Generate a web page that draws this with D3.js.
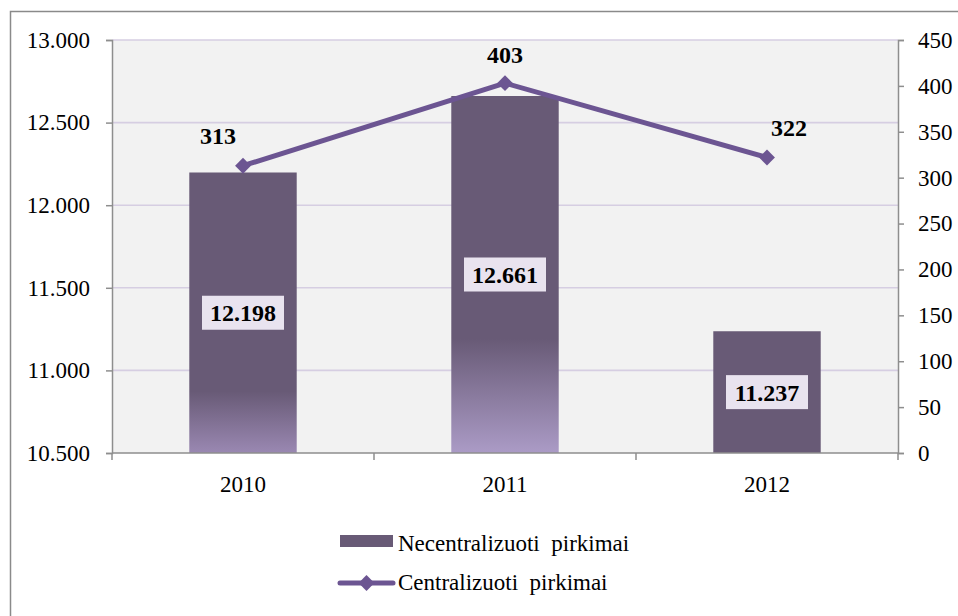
<!DOCTYPE html>
<html>
<head>
<meta charset="utf-8">
<script src="https://cdn.jsdelivr.net/npm/d3@7"></script>
<style>
  body { margin: 0; background: #fff; }
</style>
</head>
<body>
<div id="vis"></div>
<script>
// data
var years = ['2010', '2011', '2012'];
var necentralizuoti = [12198, 12661, 11237];
var centralizuoti = [313, 403, 322];
var leftTicks = [10500, 11000, 11500, 12000, 12500, 13000];
var rightTicks = [0, 50, 100, 150, 200, 250, 300, 350, 400, 450];

// per-bar gradient start (fraction of bar height) and bottom colour
var barFade = [
  { start: 0.78, bottom: '#9a88b2' },
  { start: 0.68, bottom: '#ab9bc6' },
  { start: 1.0, bottom: '#685a76' }
];
// hand-moved line label offsets
var lineLabelShift = [[-25, -30], [0, -29], [22, -30]];

var width = 958, height = 616;
var margin = { left: 112, right: 60, top: 40, bottom: 163 };
var plotW = width - margin.left - margin.right;   // 786
var plotH = height - margin.top - margin.bottom;  // 413

var font = "Liberation Serif";
var barColor = '#685a76';
var lineColor = '#6c5592';
var gridColor = '#d6cee2';
var axisColor = '#8e8e8e';

var svg = d3.select('#vis').append('svg')
  .attr('width', width)
  .attr('height', height)
  .attr('font-family', font);

// outer chart border
svg.append('rect')
  .attr('x', 10.5).attr('y', 11.5)
  .attr('width', width).attr('height', height)
  .attr('fill', '#fff')
  .attr('stroke', '#8a8a8a')
  .attr('stroke-width', 1.5);

var g = svg.append('g').attr('transform', 'translate(' + margin.left + ',' + margin.top + ')');

var x = d3.scaleBand().domain(years).range([0, plotW]);
var yL = d3.scaleLinear().domain([10500, 13000]).range([plotH, 0]);
var yR = d3.scaleLinear().domain([0, 450]).range([plotH, 0]);

// plot background
g.append('rect')
  .attr('width', plotW).attr('height', plotH)
  .attr('fill', '#f2f2f2');

// gridlines
g.selectAll('.grid').data(leftTicks.slice(1)).enter().append('line')
  .attr('x1', 0).attr('x2', plotW)
  .attr('y1', function (d) { return yL(d); })
  .attr('y2', function (d) { return yL(d); })
  .attr('stroke', gridColor)
  .attr('stroke-width', 1.6);

// gradients
var defs = svg.append('defs');
barFade.forEach(function (f, i) {
  var lg = defs.append('linearGradient')
    .attr('id', 'fade' + i)
    .attr('x1', 0).attr('y1', 0).attr('x2', 0).attr('y2', 1);
  lg.append('stop').attr('offset', 0).attr('stop-color', barColor);
  lg.append('stop').attr('offset', f.start).attr('stop-color', barColor);
  lg.append('stop').attr('offset', 1).attr('stop-color', f.bottom);
});

// bars
var bw = x.bandwidth() * 0.41;
g.selectAll('.bar').data(necentralizuoti).enter().append('rect')
  .attr('class', 'bar')
  .attr('x', function (d, i) { return x(years[i]) + x.bandwidth() / 2 - bw / 2; })
  .attr('y', function (d) { return yL(d); })
  .attr('width', bw)
  .attr('height', function (d) { return plotH - yL(d); })
  .attr('fill', function (d, i) { return 'url(#fade' + i + ')'; });

// bar labels (centred in bar, light box)
var fmt = function (v) { return d3.format(',')(v).replace(',', '.'); };
necentralizuoti.forEach(function (d, i) {
  var cx = x(years[i]) + x.bandwidth() / 2;
  var cy = (yL(d) + plotH) / 2;
  g.append('rect')
    .attr('x', cx - 41).attr('y', cy - 17)
    .attr('width', 82).attr('height', 34)
    .attr('fill', '#e9e3ef');
  g.append('text')
    .attr('x', cx).attr('y', cy)
    .attr('dy', '0.35em')
    .attr('text-anchor', 'middle')
    .attr('font-size', 24)
    .attr('font-weight', 'bold')
    .attr('font-family', font)
    .text(fmt(d));
});

// left axis
var axL = g.append('g').call(d3.axisLeft(yL).tickValues(leftTicks).tickSize(6).tickPadding(16)
  .tickFormat(function (d) { return fmt(d); }));
axL.attr('font-family', font);
axL.select('.domain').attr('stroke', axisColor).attr('stroke-width', 1.5);
axL.selectAll('.tick line').attr('stroke', axisColor).attr('stroke-width', 1.5);
axL.selectAll('.tick text').attr('font-size', 23).attr('fill', '#000');

// right axis
var axR = g.append('g').attr('transform', 'translate(' + plotW + ',0)')
  .call(d3.axisRight(yR).tickValues(rightTicks).tickSize(6).tickPadding(14));
axR.attr('font-family', font);
axR.select('.domain').attr('stroke', axisColor).attr('stroke-width', 1.5);
axR.selectAll('.tick line').attr('stroke', axisColor).attr('stroke-width', 1.5);
axR.selectAll('.tick text').attr('font-size', 23).attr('fill', '#000');

// bottom axis
g.append('line')
  .attr('x1', 0).attr('x2', plotW)
  .attr('y1', plotH).attr('y2', plotH)
  .attr('stroke', axisColor).attr('stroke-width', 1.5);
g.selectAll('.xtick').data(d3.range(years.length + 1)).enter().append('line')
  .attr('x1', function (i) { return i * x.step(); })
  .attr('x2', function (i) { return i * x.step(); })
  .attr('y1', plotH).attr('y2', plotH + 7)
  .attr('stroke', axisColor).attr('stroke-width', 1.5);
g.selectAll('.xlab').data(years).enter().append('text')
  .attr('x', function (d) { return x(d) + x.bandwidth() / 2; })
  .attr('y', plotH + 31)
  .attr('dy', '0.35em')
  .attr('text-anchor', 'middle')
  .attr('font-size', 23)
  .text(function (d) { return d; });

// line series
var line = d3.line()
  .x(function (d, i) { return x(years[i]) + x.bandwidth() / 2; })
  .y(function (d) { return yR(d); });
g.append('path')
  .datum(centralizuoti)
  .attr('d', line)
  .attr('fill', 'none')
  .attr('stroke', lineColor)
  .attr('stroke-width', 5)
  .attr('stroke-linejoin', 'round');

var diamond = d3.symbol().type(d3.symbolDiamond2).size(160);
g.selectAll('.marker').data(centralizuoti).enter().append('path')
  .attr('d', diamond)
  .attr('transform', function (d, i) {
    return 'translate(' + (x(years[i]) + x.bandwidth() / 2) + ',' + yR(d) + ')';
  })
  .attr('fill', lineColor);

g.selectAll('.lineLab').data(centralizuoti).enter().append('text')
  .attr('x', function (d, i) { return x(years[i]) + x.bandwidth() / 2 + lineLabelShift[i][0]; })
  .attr('y', function (d, i) { return yR(d) + lineLabelShift[i][1]; })
  .attr('dy', '0.35em')
  .attr('text-anchor', 'middle')
  .attr('font-size', 24)
  .attr('font-weight', 'bold')
  .text(function (d) { return d; });

// legend
var legend = svg.append('g').attr('transform', 'translate(340,0)');
legend.append('rect')
  .attr('x', 0).attr('y', 535)
  .attr('width', 53).attr('height', 12)
  .attr('fill', barColor);
legend.append('text')
  .attr('x', 58).attr('y', 543)
  .attr('dy', '0.35em')
  .attr('font-size', 23)
  .attr('xml:space', 'preserve')
  .text('Necentralizuoti  pirkimai');
legend.append('line')
  .attr('x1', 0).attr('x2', 53)
  .attr('y1', 583).attr('y2', 583)
  .attr('stroke', lineColor).attr('stroke-width', 5)
  .attr('stroke-linecap', 'round');
legend.append('path')
  .attr('d', diamond)
  .attr('transform', 'translate(26.5,583)')
  .attr('fill', lineColor);
legend.append('text')
  .attr('x', 58).attr('y', 582)
  .attr('dy', '0.35em')
  .attr('font-size', 23)
  .attr('xml:space', 'preserve')
  .text('Centralizuoti  pirkimai');
</script>
</body>
</html>
